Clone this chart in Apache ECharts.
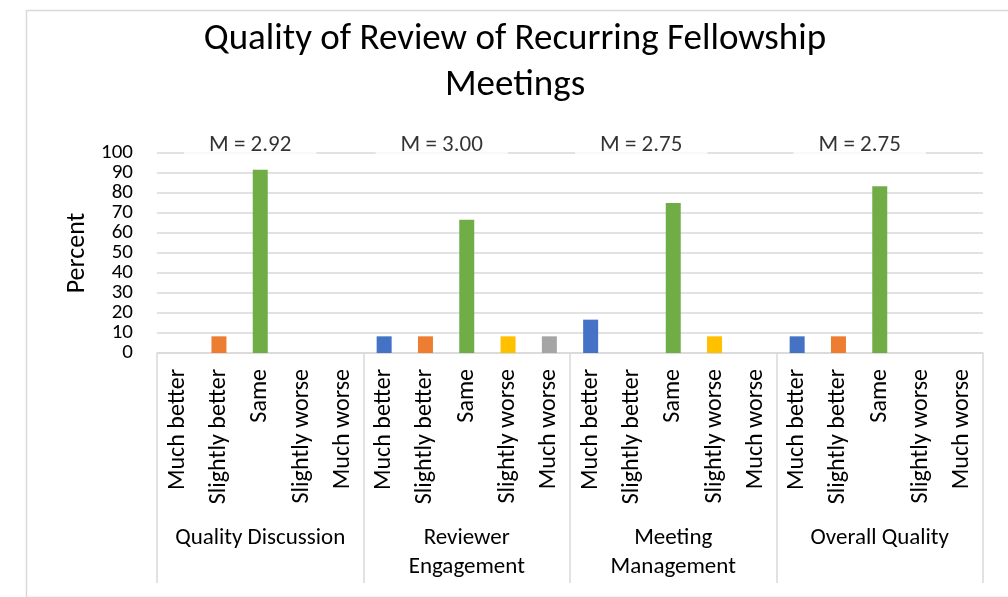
<!DOCTYPE html>
<html>
<head>
<meta charset="utf-8">
<script src="https://cdn.jsdelivr.net/npm/echarts@6/dist/echarts.min.js"></script>
<style>
  html, body { margin: 0; padding: 0; background: #fff; }
  #chart { width: 1008px; height: 597px; }
</style>
</head>
<body>
<div id="chart"></div>
<script>
// ---- data ----
const titleText = 'Quality of Review of Recurring Fellowship\nMeetings';
const groups = ['Quality Discussion', 'Reviewer\nEngagement', 'Meeting\nManagement', 'Overall Quality'];
const responses = ['Much better', 'Slightly better', 'Same', 'Slightly worse', 'Much worse'];
const qualityDiscussion = [0, 8.33, 91.67, 0, 0];
const reviewerEngagement = [8.33, 8.33, 66.67, 8.33, 8.33];
const meetingManagement = [16.67, 0, 75, 8.33, 0];
const overallQuality = [8.33, 8.33, 83.33, 0, 0];
const meanLabels = ['M = 2.92', 'M = 3.00', 'M = 2.75', 'M = 2.75'];
const meanLabelY = [100, 100, 100, 100];
const yMin = 0, yMax = 100, yStep = 10;

// ---- styles ----
const responseColors = ['#4472C4', '#ED7D31', '#70AD47', '#FFC000', '#A5A5A5'];
const meanLabelShift = [-10, -25, -32, -20];
const FONT = 'Carlito, Lato, sans-serif';
const GRID_COLOR = '#d9d9d9';

const categories = [];
const values = [];
[qualityDiscussion, reviewerEngagement, meetingManagement, overallQuality].forEach(arr => {
  arr.forEach((v, i) => { categories.push(responses[i]); values.push(v); });
});

const yLabelStyle = { margin: 24, fontFamily: FONT, fontSize: 21, color: '#000' };

const chart = echarts.init(document.getElementById('chart'));
chart.setOption({
  animation: false,
  backgroundColor: '#fff',
  title: {
    text: titleText,
    left: 510,
    top: 12,
    textAlign: 'center',
    textStyle: { fontFamily: FONT, fontSize: 37, fontWeight: 'normal', color: '#000', lineHeight: 46 }
  },
  graphic: [{
    type: 'rect', left: 24, top: 8, z: -1,
    shape: { width: 1000, height: 587 },
    style: { fill: 'none', stroke: GRID_COLOR, lineWidth: 1.5 }
  }],
  grid: { left: 157, right: 25, top: 153, bottom: 244, containLabel: false },
  xAxis: [{
    type: 'category',
    data: categories,
    position: 'bottom',
    axisLine: { show: true, lineStyle: { color: GRID_COLOR, width: 1.5 } },
    axisTick: { show: false },
    axisLabel: { interval: 0, rotate: 90, margin: 16, fontFamily: FONT, fontSize: 24, color: '#000' }
  }, {
    type: 'category',
    data: groups,
    position: 'bottom',
    axisLine: { show: false },
    axisTick: { show: true, interval: 0, length: 230, lineStyle: { color: GRID_COLOR, width: 1.5 } },
    axisLabel: { interval: 0, margin: 171, fontFamily: FONT, fontSize: 23, color: '#000', lineHeight: 29 }
  }],
  yAxis: [{
    type: 'value',
    min: yMin, max: yMax, interval: yStep,
    name: 'Percent',
    nameLocation: 'middle',
    nameGap: 67,
    nameTextStyle: { fontFamily: FONT, fontSize: 26, color: '#000' },
    axisLine: { show: false },
    axisTick: { show: false },
    axisLabel: Object.assign({}, yLabelStyle, {
      formatter: v => (v === yMin || v === yMax) ? String(v) : ''
    }),
    splitLine: { lineStyle: { color: GRID_COLOR, width: 1.5 } }
  }, {
    type: 'value',
    position: 'left',
    min: yMin, max: yMax, interval: yStep,
    axisLine: { show: false },
    axisTick: { show: false },
    splitLine: { show: false },
    axisLabel: Object.assign({}, yLabelStyle, {
      formatter: v => (v === yMin || v === yMax) ? '' : String(v)
    })
  }],
  series: [{
    type: 'bar',
    xAxisIndex: 0,
    yAxisIndex: 0,
    data: values.map((v, i) => ({ value: v, itemStyle: { color: responseColors[i % 5] } })),
    barWidth: 15
  }, {
    type: 'scatter',
    xAxisIndex: 1,
    yAxisIndex: 0,
    symbolSize: 1,
    itemStyle: { color: 'rgba(0,0,0,0)' },
    z: 10,
    data: meanLabelY.map((v, i) => ({
      value: v,
      label: { offset: [meanLabelShift[i], -8] }
    })),
    label: {
      show: true,
      position: 'inside',
      formatter: p => meanLabels[p.dataIndex],
      fontFamily: FONT, fontSize: 23, color: '#000',
      backgroundColor: '#fff',
      padding: [2, 25]
    }
  }]
});
</script>
</body>
</html>
